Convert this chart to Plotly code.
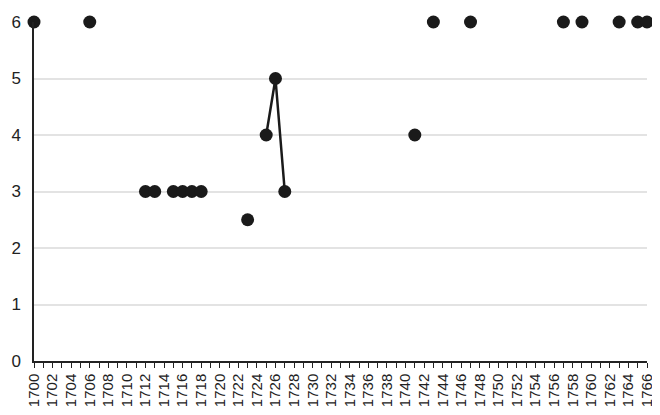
import plotly.graph_objects as go

years = list(range(1700, 1767))
obs_years = [1700, 1706, 1712, 1713, 1715, 1716, 1717, 1718, 1723, 1725, 1726, 1727,
             1741, 1743, 1747, 1757, 1759, 1763, 1765, 1766]
obs_values = [6, 6, 3, 3, 3, 3, 3, 3, 2.5, 4, 5, 3,
              4, 6, 6, 6, 6, 6, 6, 6]
tick_labels = [str(y) for y in range(1700, 1767, 2)]

lookup = dict(zip(obs_years, obs_values))
values = [lookup.get(y, None) for y in years]

font_family = "Liberation Sans, Arial, sans-serif"

fig = go.Figure()
fig.add_trace(go.Scatter(
    x=years, y=values, mode="lines+markers",
    line=dict(color="#1a1a1a", width=2.5),
    marker=dict(color="#1a1a1a", size=13),
    connectgaps=False, cliponaxis=False, showlegend=False,
))

# page body has an 8px margin; figure is sized to fit the 660x415 window
fig.update_layout(
    width=652, height=407,
    margin=dict(l=26, r=13, t=14, b=54),
    plot_bgcolor="white", paper_bgcolor="white",
    font=dict(family=font_family, color="#222222"),
)
fig.update_xaxes(
    range=[1700, 1766], automargin=False,
    tickmode="array",
    tickvals=list(range(1700, 1767, 2)),
    ticktext=tick_labels,
    tickangle=-90,
    tickfont=dict(size=15, family=font_family, color="#222222"),
    ticks="outside", ticklen=5, tickcolor="#222222", tickwidth=1,
    minor=dict(tickmode="linear", tick0=1700, dtick=1, ticks="outside", ticklen=5,
               tickcolor="#222222", tickwidth=1, showgrid=False),
    showline=True, linecolor="#222222", linewidth=1.5,
    showgrid=False, zeroline=False,
)
fig.update_yaxes(
    range=[0, 6], automargin=False,
    tickmode="linear", tick0=0, dtick=1,
    tickfont=dict(size=17, family=font_family, color="#222222"),
    showline=True, linecolor="#222222", linewidth=1.5,
    showgrid=True, gridcolor="#e3e3e3", gridwidth=1.5,
    zeroline=False, ticks="", ticklabelstandoff=8,
)

fig.write_html("out.html")
